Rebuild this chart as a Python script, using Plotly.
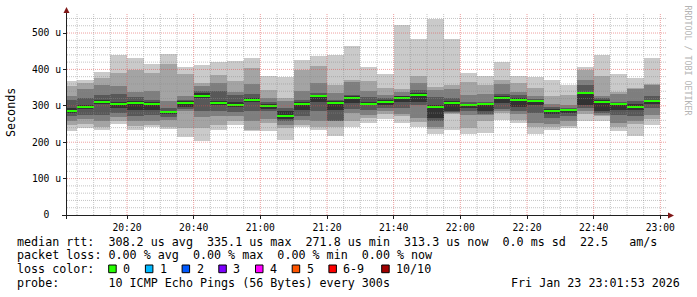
import plotly.graph_objects as go
import pandas as pd

# ---------------- data ----------------
bar_times = pd.date_range("2026-01-23 20:00", periods=36, freq="5min")

# sorted ping rtts (us) per 5-minute step, p1 = fastest ... p10 = slowest
ping10 = [368, 371, 393, 440, 432, 415, 442, 408, 412, 421, 423, 432, 382, 379, 426, 438, 440, 464,
          406, 387, 522, 484, 538, 484, 390, 382, 421, 382, 379, 371, 358, 408, 440, 388, 376, 432]
ping9 = [355, 362, 376, 390, 399, 389, 416, 387, 362, 385, 367, 403, 344, 321, 399, 410, 356, 371,
         367, 350, 347, 382, 353, 356, 365, 356, 371, 362, 350, 326, 330, 399, 383, 337, 350, 359]
ping8 = [327, 347, 356, 355, 339, 341, 312, 327, 355, 362, 337, 360, 321, 312, 341, 362, 335, 365,
         341, 330, 339, 362, 344, 347, 330, 332, 359, 337, 326, 305, 301, 371, 328, 332, 347, 356]
ping7 = [317, 321, 330, 333, 325, 317, 295, 316, 341, 341, 330, 333, 310, 295, 317, 335, 317, 330,
         323, 321, 327, 344, 325, 321, 310, 310, 332, 330, 319, 298, 295, 356, 321, 310, 314, 326]
ping6 = [294, 303, 317, 310, 314, 310, 287, 312, 334, 314, 310, 321, 305, 285, 310, 330, 312, 326,
         310, 315, 326, 334, 303, 312, 306, 307, 327, 321, 316, 292, 292, 338, 316, 307, 305, 317]
ping5 = [280, 292, 305, 294, 289, 289, 277, 298, 321, 301, 296, 310, 292, 264, 289, 310, 289, 307,
         301, 303, 310, 310, 266, 285, 294, 286, 307, 298, 303, 277, 280, 301, 286, 289, 289, 305]
ping4 = [271, 275, 275, 280, 271, 275, 268, 292, 285, 285, 283, 285, 285, 257, 271, 285, 259, 292,
         289, 294, 295, 301, 257, 282, 285, 277, 292, 285, 280, 266, 271, 294, 280, 275, 271, 294]
ping3 = [259, 264, 257, 269, 259, 257, 262, 285, 268, 271, 271, 259, 264, 248, 262, 259, 257, 280,
         275, 285, 277, 266, 243, 280, 275, 274, 285, 277, 253, 250, 259, 285, 275, 253, 257, 275]
ping2 = [248, 250, 243, 259, 245, 248, 243, 239, 239, 248, 259, 234, 253, 239, 248, 243, 243, 259,
         266, 277, 271, 255, 237, 278, 239, 257, 280, 262, 243, 243, 245, 277, 271, 243, 250, 264]
ping1 = [230, 239, 234, 251, 234, 242, 237, 213, 202, 234, 248, 230, 230, 207, 243, 234, 216, 243,
         253, 264, 253, 241, 223, 234, 223, 225, 262, 253, 222, 234, 239, 257, 259, 230, 216, 248]
median = [285, 297, 311, 305, 307, 305, 283, 308, 328, 308, 303, 316, 299, 272, 304, 328, 307, 322,
          306, 310, 322, 331, 296, 307, 302, 304, 322, 317, 314, 287, 288, 335, 311, 304, 298, 313]

y_tick_vals = [0, 100, 200, 300, 400, 500]
y_tick_text = ["0\u00a0\u00a0", "100 u", "200 u", "300 u", "400 u", "500 u"]
x_tick_text = ["20:20", "20:40", "21:00", "21:20", "21:40", "22:00", "22:20", "22:40", "23:00"]

loss_labels = ["0", "1", "2", "3", "4", "5", "6-9", "10/10"]
loss_colors = ["#26ff00", "#00b8ff", "#0059ff", "#7e00ff", "#ff00ff", "#ff5500", "#ff0000", "#a10000"]

line_rtt = "median rtt:  308.2 us avg  335.1 us max  271.8 us min  313.3 us now  0.0 ms sd  22.5   am/s"
line_loss = "packet loss: 0.00 % avg  0.00 % max  0.00 % min  0.00 % now"
line_probe = "probe:       10 ICMP Echo Pings (56 Bytes) every 300s"
stamp = "Fri Jan 23 23:01:53 2026"

# ---------------- layout constants ----------------
W, H = 697, 297
L, R, T, B = 67, 30, 13, 82
PW, PH = W - L - R, H - T - B
YMAX = 555
X0 = pd.Timestamp("2026-01-23 20:02:00")
X1 = pd.Timestamp("2026-01-23 23:02:00")
STEP_MS = 300000
MONO = "DejaVu Sans Mono"


def pxx(px):
    return (px - L) / PW


def pxy(py):
    return (H - B - py) / PH


def nb(s):
    return s.replace(" ", "\u00a0")


fig = go.Figure()

lows = [ping1, ping2, ping3, ping4, ping5]
highs = [ping10, ping9, ping8, ping7, ping6]
smoke_cols = ["#cacaca", "#a4a4a4", "#7e7e7e", "#585858", "#323232"]
for lo, hi, col in zip(lows, highs, smoke_cols):
    fig.add_trace(go.Bar(
        x=bar_times, base=lo, y=[h - l for h, l in zip(hi, lo)],
        width=STEP_MS, offset=0, marker=dict(color=col, line=dict(width=0)),
        showlegend=False, hoverinfo="skip"))

swidth = YMAX / PH
fig.add_trace(go.Bar(
    x=bar_times, base=[m - swidth for m in median], y=[2 * swidth] * len(median),
    width=STEP_MS, offset=0, marker=dict(color=loss_colors[0], line=dict(width=0)),
    showlegend=False, hoverinfo="skip"))

shapes = []
# grid (drawn on top like rrdtool)
for v in range(20, YMAX, 20):
    major = v % 100 == 0
    shapes.append(dict(type="line", xref="paper", yref="y", x0=0, x1=1, y0=v, y1=v, layer="above",
                       line=dict(color="rgba(222,80,80,0.55)" if major else "rgba(140,140,140,0.5)",
                                 width=1, dash="1px,1px")))
t = pd.Timestamp("2026-01-23 20:05")
while t <= pd.Timestamp("2026-01-23 23:00"):
    major = t.minute % 20 == 0
    shapes.append(dict(type="line", xref="x", yref="paper", x0=t, x1=t, y0=0, y1=1, layer="above",
                       line=dict(color="rgba(222,80,80,0.55)" if major else "rgba(140,140,140,0.5)",
                                 width=1, dash="1px,1px")))
    t += pd.Timedelta(minutes=5)

# axes with arrows
axis_col = "#202020"
arrow_col = "#801818"
shapes.append(dict(type="line", xref="paper", yref="paper", x0=pxx(62), x1=pxx(670),
                   y0=pxy(215.5), y1=pxy(215.5), line=dict(color=axis_col, width=1), layer="above"))
shapes.append(dict(type="line", xref="paper", yref="paper", x0=pxx(66.5), x1=pxx(66.5),
                   y0=pxy(219), y1=pxy(10), line=dict(color=axis_col, width=1), layer="above"))
shapes.append(dict(type="path", xref="paper", yref="paper", layer="above",
                   path=f"M {pxx(668)} {pxy(212.5)} L {pxx(674)} {pxy(215.5)} L {pxx(668)} {pxy(218.5)} Z",
                   fillcolor=arrow_col, line=dict(color=arrow_col, width=0)))
shapes.append(dict(type="path", xref="paper", yref="paper", layer="above",
                   path=f"M {pxx(63.5)} {pxy(13)} L {pxx(66.5)} {pxy(7)} L {pxx(69.5)} {pxy(13)} Z",
                   fillcolor=arrow_col, line=dict(color=arrow_col, width=0)))

# legend boxes
box_x = [108.7 + 36.7 * k for k in range(7)] + [381.7]
annotations = []
for bx, lab, col in zip(box_x, loss_labels, loss_colors):
    shapes.append(dict(type="rect", xref="paper", yref="paper", x0=pxx(bx), x1=pxx(bx + 7.5),
                       y0=pxy(272.7), y1=pxy(265), fillcolor=col, line=dict(color="#000000", width=1)))
    annotations.append(dict(text=nb(lab), x=pxx(bx + 12.5), y=pxy(269), xref="paper", yref="paper",
                            xanchor="left", yanchor="middle", showarrow=False,
                            font=dict(family=MONO, size=11.7, color="#000000")))

for txt, yc in [(line_rtt, 241.7), (line_loss, 255), ("loss color:", 269), (line_probe, 282.7)]:
    annotations.append(dict(text=nb(txt), x=pxx(14.5), y=pxy(yc), xref="paper", yref="paper",
                            xanchor="left", yanchor="middle", showarrow=False,
                            font=dict(family=MONO, size=11.7, color="#000000")))
annotations.append(dict(text=nb(stamp), x=pxx(682), y=pxy(282.7), xref="paper", yref="paper",
                        xanchor="right", yanchor="middle", showarrow=False,
                        font=dict(family=MONO, size=11.7, color="#000000")))
annotations.append(dict(text="Seconds", x=pxx(11), y=pxy(113), xref="paper", yref="paper",
                        xanchor="center", yanchor="middle", showarrow=False, textangle=-90,
                        font=dict(family=MONO, size=11.7, color="#000000")))
annotations.append(dict(text=nb("RRDTOOL / TOBI OETIKER"), x=pxx(687.5), y=pxy(60), xref="paper",
                        yref="paper", xanchor="center", yanchor="middle", showarrow=False, textangle=90,
                        font=dict(family=MONO, size=8.3, color="#b4b4b4")))

x_tick_vals = [pd.Timestamp("2026-01-23 " + s) for s in x_tick_text]

fig.update_layout(
    width=W, height=H, margin=dict(l=L, r=R, t=T, b=B, autoexpand=False),
    paper_bgcolor="#ffffff", plot_bgcolor="#ffffff",
    barmode="overlay", bargap=0, showlegend=False,
    shapes=shapes, annotations=annotations,
    xaxis=dict(type="date", range=[X0, X1], tickvals=x_tick_vals, ticktext=x_tick_text,
               showgrid=False, zeroline=False, showline=False, ticks="outside", ticklen=3,
               tickcolor=axis_col, tickfont=dict(family=MONO, size=9.7, color="#000000"),
               fixedrange=True),
    yaxis=dict(range=[0, YMAX], tickvals=y_tick_vals, ticktext=y_tick_text,
               showgrid=False, zeroline=False, showline=False, ticks="outside", ticklen=3,
               tickcolor=axis_col, tickfont=dict(family=MONO, size=9.7, color="#000000"),
               fixedrange=True),
)

fig.write_html("out.html")
